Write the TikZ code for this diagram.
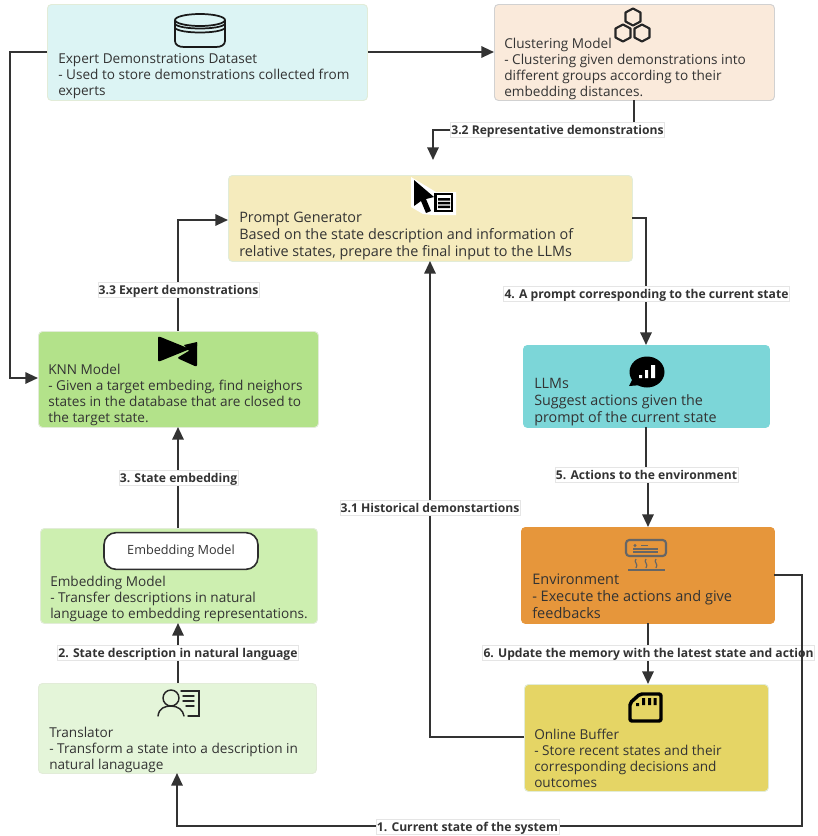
\documentclass[tikz,border=0pt]{standalone}
\usepackage{fontspec}
\setmainfont{Open Sans}
\usetikzlibrary{arrows.meta}
\definecolor{ink}{HTML}{333333}
\definecolor{cExpert}{HTML}{DCF4F4}
\definecolor{cCluster}{HTML}{FAEADB}
\definecolor{cPrompt}{HTML}{F5EBBD}
\definecolor{cKnn}{HTML}{B3E28A}
\definecolor{cEmbed}{HTML}{CDEFB0}
\definecolor{cTrans}{HTML}{E4F5D9}
\definecolor{cLlm}{HTML}{7CD6D8}
\definecolor{cEnv}{HTML}{E6963B}
\definecolor{cBuf}{HTML}{E5D565}
\definecolor{edgeA}{HTML}{E2ECD8}
\tikzset{
  x=0.75pt,y=-0.75pt,
  box/.style={draw=edgeA,line width=0.7pt,rounded corners=3pt,inner sep=0pt,anchor=north west},
  txt/.style={anchor=north west,align=left,inner sep=0pt,text=ink,font=\fontsize{10.2}{12}\selectfont},
  lab/.style={fill=white,draw=black!10,line width=0.4pt,inner xsep=0.6pt,inner ysep=0.8pt,text height=8pt,text depth=1.5pt,text=ink,font=\fontsize{9.1}{11}\selectfont\bfseries},
  conn/.style={draw=ink,line width=1.5pt,rounded corners=0pt},
  arr/.style={conn,-{Triangle[length=9.5pt,width=8.5pt]}},
  ic/.style={draw=black!90,line width=1.3pt,line join=round,fill=none},
}
\begin{document}
\begin{tikzpicture}
\useasboundingbox (0,0) rectangle (818,836);
% boxes
\node[box,fill=cExpert,minimum width=240pt,minimum height=72pt] (expert) at (47,4) {};
\node[box,fill=cCluster,draw=black!18,minimum width=210pt,minimum height=72pt] (cluster) at (494,4) {};
\node[box,fill=cPrompt,minimum width=303pt,minimum height=64.5pt] (prompt) at (228,175) {};
\node[box,fill=cKnn,minimum width=210pt,minimum height=72pt] (knn) at (38,331) {};
\node[box,fill=cEmbed,minimum width=207.75pt,minimum height=71.25pt] (embed) at (40,528) {};
\node[box,fill=cTrans,minimum width=208.5pt,minimum height=67.5pt] (trans) at (38,683) {};
\node[box,fill=cLlm,draw=cLlm,minimum width=184.5pt,minimum height=61.5pt] (llm) at (523,345) {};
\node[box,fill=cEnv,draw=cEnv,minimum width=189.75pt,minimum height=72pt] (env) at (521,527) {};
\node[box,fill=cBuf,minimum width=183pt,minimum height=80.25pt] (buffer) at (524,684) {};
\node[draw=ink!90!black,line width=1.2pt,fill=white,rounded corners=9pt,minimum width=115.5pt,minimum height=27.5pt,inner sep=0pt,text=ink,font=\fontsize{9.5}{11}\selectfont] (pill) at (181,551) {Embedding Model};
% texts
\node[txt] (texpert) at (58,53) {Expert Demonstrations Dataset\\- Used to store demonstrations collected from\\experts};
\node[txt] (tcluster) at (504,38) {Clustering Model\\- Clustering given demonstrations into\\different groups according to their\\embedding distances.};
\node[txt,font=\fontsize{10.8}{12.7}\selectfont] (tprompt) at (239,212) {Prompt Generator\\Based on the state description and information of\\relative states, prepare the final input to the LLMs};
\node[txt] (tknn) at (48,364) {KNN Model\\- Given a target embeding, find neighors\\states in the database that are closed to\\the target state.};
\node[txt] (tembed) at (50,576) {Embedding Model\\- Transfer descriptions in natural\\language to embedding representations.};
\node[txt] (ttrans) at (49,727) {Translator\\- Transform a state into a description in\\natural lanaguage};
\node[txt,font=\fontsize{10.75}{12.7}\selectfont] (tllm) at (534,378) {LLMs\\Suggest actions given the\\prompt of the current state};
\node[txt,font=\fontsize{10.9}{12.7}\selectfont] (tenv) at (532,574) {Environment\\- Execute the actions and give\\feedbacks};
\node[txt] (tbuf) at (534,729) {Online Buffer\\- Store recent states and their\\corresponding decisions and\\outcomes};
% free coordinates and bends
\coordinate (promptIn) at (433,160);
\coordinate (a1) at (10,52); \coordinate (a2) at (10,378);
% connectors
\draw[arr] (expert.west |- a1) -- (a1) -- (a2) -- (knn.west |- a2);
\draw[arr] (expert.east |- a1) -- (cluster.west |- a1);
\draw[arr] (634,100) -- (634,130) -- (433,130) -- (promptIn);
\draw[arr] (632,218) -- (646,218) -- (646,345);
\draw[arr] (178,331) -- (178,220) -- (228,220);
\draw[arr] (178,528) -- (178,427);
\draw[arr] (178,683) -- (178,623);
\draw[arr] (646,427) -- (646,477) -- (648,477) -- (648,527);
\draw[arr] (648,623) -- (648,684);
\draw[arr] (524,737) -- (430,737) -- (430,261);
% labels under the long feedback line
\node[lab] (l32) at (557.5,130) {3.2 Representative demonstrations};
\node[lab] (l33) at (178.5,290) {3.3 Expert demonstrations};
\node[lab] (l4) at (646.5,294) {4. A prompt corresponding to the current state};
\node[lab] (l3) at (178.5,478) {3. State embedding};
\node[lab] (l5) at (646.5,475) {5. Actions to the environment};
\node[lab] (l31) at (430,508) {3.1 Historical demonstartions};
\node[lab] (l6) at (648.5,653) {6. Update the memory with the latest state and action};
\node[lab] (l2) at (178,653) {2. State description in natural language};
\draw[arr] (774,575) -- (802,575) -- (802,826) -- (177,826) -- (177,773);
\node[lab] (l1) at (467.5,827) {1. Current state of the system};
% database icon
\begin{scope}[ic]
\draw (175,20) -- (175,41) .. controls (175,45) and (179,47) .. (184,47) -- (216,47) .. controls (221,47) and (225,45) .. (225,41) -- (225,20);
\draw (200,20) ellipse [x radius=25,y radius=6];
\draw (175,24) .. controls (180,30) and (220,30) .. (225,24);
\draw (175,28) .. controls (180,34) and (220,34) .. (225,28);
\end{scope}
% hexagons icon
\foreach \cx/\cy in {633/17,623/33,642/33}{
  \draw[ic,draw=black!85,line width=1.6pt] (\cx-7.5,\cy-4.5) -- (\cx,\cy-8.5) -- (\cx+7.5,\cy-4.5) -- (\cx+7.5,\cy+4.5) -- (\cx,\cy+8.5) -- (\cx-7.5,\cy+4.5) -- cycle;
}
% cursor and list icon
\fill[white] (411,177) -- (436,192) -- (456,192) -- (456,215) -- (433,215) -- (423,214) -- (411,207) -- cycle;
\fill[black] (414,180) -- (434,197) -- (426,199) -- (431,211) -- (426,213) -- (421,201) -- (414,206) -- cycle;
\draw[black,line width=1.6pt] (435.5,194) rectangle (452,211);
\fill[black] (438,198) rectangle (450,200.5) (438,201.8) rectangle (450,204.3) (438,205.6) rectangle (450,208.1);
% bow tie icon
\fill[black,rounded corners=1.5pt] (158,336) -- (190,349) -- (158,362) -- cycle;
\fill[black,rounded corners=1.5pt] (197,342) -- (197,367) -- (177,358) -- (197,346) -- cycle;
\fill[black] (184,345) -- (197,342) -- (197,346) -- (190,352) -- cycle;
% chat icon
\fill[black] (647,372) ellipse [x radius=17.5,y radius=15.5];
\fill[black] (633,378) -- (629,386) -- (642,385) -- cycle;
\fill[white] (639,375) rectangle (642,378) (645,370) rectangle (648,378) (651,365) rectangle (655,378);
% air conditioner icon
\begin{scope}[draw=black!60,line width=1.1pt]
\draw[rounded corners=2.5pt,line width=1.6pt] (626,540) rectangle (666,556);
\draw[line width=1.3pt] (633,552) -- (658,552);
\draw[line width=1.1pt] (633,549.2) -- (658,549.2);
\fill[black!60] (635,545.5) circle [radius=1.6];
\draw[line width=0.9pt] (641,545.5) -- (648,545.5);
\draw[line width=0.9pt] (628,570) -- (665,570);
\foreach \wx in {636,646,656}{
  \draw[line width=0.9pt] (\wx,559) .. controls (\wx-3,562) and (\wx+3,564) .. (\wx,568);
}
\end{scope}
% person and document icon
\begin{scope}[draw=black!85,line width=1.1pt,line cap=round]
\draw (171,698) circle [radius=8];
\draw (158,716) .. controls (159,708) and (165,706) .. (171,706) .. controls (178,706) and (183,710) .. (184,716);
\draw (181,691) -- (199,691) -- (199,716) -- (188,716);
\draw (183,696) -- (194,696);
\draw (183,701) -- (194,701);
\draw (186,706) -- (194,706);
\end{scope}
% memory card icon
\draw[black,line width=2.6pt,line join=round,rounded corners=1.5pt] (630,703) -- (640,694) -- (661,694) -- (661,721) -- (630,721) -- cycle;
\fill[black] (636,703) rectangle (639,706) (642,698) rectangle (645,705) (648,698) rectangle (651,705) (653.5,698) rectangle (656.5,705);
\end{tikzpicture}
\end{document}
